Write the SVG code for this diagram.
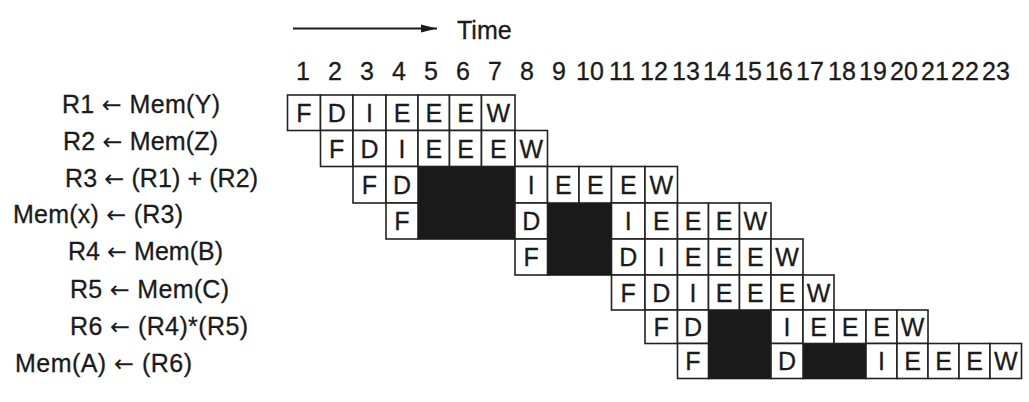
<svg xmlns="http://www.w3.org/2000/svg" width="1029" height="402" viewBox="0 0 1029 402">
<defs>
<style>
.t{font-family:"Liberation Sans",Arial,"DejaVu Sans",sans-serif;font-size:25px;fill:#1b1b1b;stroke:#1b1b1b;stroke-width:0.3}
.c{text-anchor:middle}
.ar{font-family:"DejaVu Sans",sans-serif;font-size:24px;stroke-width:0}
.cell{fill:#fff;stroke:#222;stroke-width:1.6}
.blk{fill:#1a1a1a;stroke:#1a1a1a;stroke-width:1.6}
.ln{stroke:#1b1b1b;stroke-width:1.8;fill:none}
</style>
<marker id="ah" markerUnits="userSpaceOnUse" markerWidth="18" markerHeight="10" refX="16" refY="5" orient="auto">
<path d="M0,1 L16,5 L0,9 Z" fill="#1b1b1b"/>
</marker>
</defs>
<rect width="1029" height="402" fill="#fff"/>

<g id="connectors">
<path class="ln" d="M293,28.5 H437" marker-end="url(#ah)"/>
</g>

<g id="time-axis">
<text class="t" x="457" y="39">Time</text>
<g class="t c">
<text x="303" y="80">1</text><text x="335" y="80">2</text><text x="367" y="80">3</text><text x="399" y="80">4</text>
<text x="431" y="80">5</text><text x="463" y="80">6</text><text x="495" y="80">7</text><text x="527" y="80">8</text>
<text x="559" y="80">9</text><text x="590" y="80">10</text><text x="622" y="80">11</text><text x="654" y="80">12</text>
<text x="686" y="80">13</text><text x="717" y="80">14</text><text x="748" y="80">15</text><text x="779" y="80">16</text>
<text x="810" y="80">17</text><text x="842" y="80">18</text><text x="873" y="80">19</text><text x="904" y="80">20</text>
<text x="935" y="80">21</text><text x="965" y="80">22</text><text x="996" y="80">23</text>
</g>
</g>

<g id="stalls">
<rect class="blk" x="418" y="166.5" width="97" height="72.5"/>
<rect class="blk" x="547.5" y="203" width="64" height="72"/>
<rect class="blk" x="708.5" y="310" width="62.5" height="68.5"/>
<rect class="blk" x="803" y="343.5" width="63" height="35"/>
</g>

<g id="row1">
<text class="t" x="62" y="113" textLength="158" lengthAdjust="spacing">R1 <tspan class="ar">←</tspan> Mem(Y)</text>
<rect class="cell" x="287.5" y="95" width="33" height="35.5"/>
<rect class="cell" x="320.5" y="95" width="32.5" height="35.5"/>
<rect class="cell" x="353" y="95" width="33" height="35.5"/>
<rect class="cell" x="386" y="95" width="32" height="35.5"/>
<rect class="cell" x="418" y="95" width="31.5" height="35.5"/>
<rect class="cell" x="449.5" y="95" width="32" height="35.5"/>
<rect class="cell" x="481.5" y="95" width="33.5" height="35.5"/>
<g class="t c">
<text x="304" y="122">F</text><text x="336.75" y="122">D</text><text x="369.5" y="122">I</text><text x="402" y="122">E</text>
<text x="433.75" y="122">E</text><text x="465.5" y="122">E</text><text x="498.25" y="122">W</text>
</g>
</g>

<g id="row2">
<text class="t" x="63" y="150" textLength="155" lengthAdjust="spacing">R2 <tspan class="ar">←</tspan> Mem(Z)</text>
<rect class="cell" x="320.5" y="130.5" width="32.5" height="36"/>
<rect class="cell" x="353" y="130.5" width="33" height="36"/>
<rect class="cell" x="386" y="130.5" width="32" height="36"/>
<rect class="cell" x="418" y="130.5" width="31.5" height="36"/>
<rect class="cell" x="449.5" y="130.5" width="32" height="36"/>
<rect class="cell" x="481.5" y="130.5" width="33.5" height="36"/>
<rect class="cell" x="515" y="130.5" width="32.5" height="36"/>
<g class="t c">
<text x="336.75" y="157.5">F</text><text x="369.5" y="157.5">D</text><text x="402" y="157.5">I</text><text x="433.75" y="157.5">E</text>
<text x="465.5" y="157.5">E</text><text x="498.25" y="157.5">E</text><text x="531.25" y="157.5">W</text>
</g>
</g>

<g id="row3">
<text class="t" x="65" y="187" textLength="193" lengthAdjust="spacing">R3 <tspan class="ar">←</tspan> (R1) + (R2)</text>
<rect class="cell" x="353" y="166.5" width="33" height="36.5"/>
<rect class="cell" x="386" y="166.5" width="32" height="36.5"/>
<rect class="cell" x="515" y="166.5" width="32.5" height="36.5"/>
<rect class="cell" x="547.5" y="166.5" width="31.5" height="36.5"/>
<rect class="cell" x="579" y="166.5" width="32.5" height="36.5"/>
<rect class="cell" x="611.5" y="166.5" width="33.5" height="36.5"/>
<rect class="cell" x="645" y="166.5" width="32.5" height="36.5"/>
<g class="t c">
<text x="369.5" y="194">F</text><text x="402" y="194">D</text>
<text x="531.25" y="194">I</text><text x="563.25" y="194">E</text><text x="595.25" y="194">E</text><text x="628.25" y="194">E</text><text x="661.25" y="194">W</text>
</g>
</g>

<g id="row4">
<text class="t" x="13" y="223" textLength="170" lengthAdjust="spacing">Mem(x) <tspan class="ar">←</tspan> (R3)</text>
<rect class="cell" x="386" y="203" width="32" height="36"/>
<rect class="cell" x="515" y="203" width="32.5" height="36"/>
<rect class="cell" x="611.5" y="203" width="33.5" height="36"/>
<rect class="cell" x="645" y="203" width="32.5" height="36"/>
<rect class="cell" x="677.5" y="203" width="31" height="36"/>
<rect class="cell" x="708.5" y="203" width="31" height="36"/>
<rect class="cell" x="739.5" y="203" width="31.5" height="36"/>
<g class="t c">
<text x="402" y="230">F</text><text x="531.25" y="230">D</text>
<text x="628.25" y="230">I</text><text x="661.25" y="230">E</text><text x="693" y="230">E</text><text x="724" y="230">E</text><text x="755.25" y="230">W</text>
</g>
</g>

<g id="row5">
<text class="t" x="68" y="260" textLength="155" lengthAdjust="spacing">R4 <tspan class="ar">←</tspan> Mem(B)</text>
<rect class="cell" x="515" y="239" width="32.5" height="36"/>
<rect class="cell" x="611.5" y="239" width="33.5" height="36"/>
<rect class="cell" x="645" y="239" width="32.5" height="36"/>
<rect class="cell" x="677.5" y="239" width="31" height="36"/>
<rect class="cell" x="708.5" y="239" width="31" height="36"/>
<rect class="cell" x="739.5" y="239" width="31.5" height="36"/>
<rect class="cell" x="771" y="239" width="32" height="36"/>
<g class="t c">
<text x="531.25" y="266">F</text>
<text x="628.25" y="266">D</text><text x="661.25" y="266">I</text><text x="693" y="266">E</text><text x="724" y="266">E</text><text x="755.25" y="266">E</text><text x="787" y="266">W</text>
</g>
</g>

<g id="row6">
<text class="t" x="70" y="298" textLength="159" lengthAdjust="spacing">R5 <tspan class="ar">←</tspan> Mem(C)</text>
<rect class="cell" x="611.5" y="275" width="33.5" height="35"/>
<rect class="cell" x="645" y="275" width="32.5" height="35"/>
<rect class="cell" x="677.5" y="275" width="31" height="35"/>
<rect class="cell" x="708.5" y="275" width="31" height="35"/>
<rect class="cell" x="739.5" y="275" width="31.5" height="35"/>
<rect class="cell" x="771" y="275" width="32" height="35"/>
<rect class="cell" x="803" y="275" width="31" height="35"/>
<g class="t c">
<text x="628.25" y="301.5">F</text><text x="661.25" y="301.5">D</text><text x="693" y="301.5">I</text><text x="724" y="301.5">E</text>
<text x="755.25" y="301.5">E</text><text x="787" y="301.5">E</text><text x="818.5" y="301.5">W</text>
</g>
</g>

<g id="row7">
<text class="t" x="70" y="335" textLength="178" lengthAdjust="spacing">R6 <tspan class="ar">←</tspan> (R4)*(R5)</text>
<rect class="cell" x="645" y="310" width="32.5" height="33.5"/>
<rect class="cell" x="677.5" y="310" width="31" height="33.5"/>
<rect class="cell" x="771" y="310" width="32" height="33.5"/>
<rect class="cell" x="803" y="310" width="31" height="33.5"/>
<rect class="cell" x="834" y="310" width="32" height="33.5"/>
<rect class="cell" x="866" y="310" width="31" height="33.5"/>
<rect class="cell" x="897" y="310" width="31" height="33.5"/>
<g class="t c">
<text x="661.25" y="335.75">F</text><text x="693" y="335.75">D</text>
<text x="787" y="335.75">I</text><text x="818.5" y="335.75">E</text><text x="850" y="335.75">E</text><text x="881.5" y="335.75">E</text><text x="912.5" y="335.75">W</text>
</g>
</g>

<g id="row8">
<text class="t" x="15" y="372" textLength="177" lengthAdjust="spacing">Mem(A) <tspan class="ar">←</tspan> (R6)</text>
<rect class="cell" x="677.5" y="343.5" width="31" height="35"/>
<rect class="cell" x="771" y="343.5" width="32" height="35"/>
<rect class="cell" x="866" y="343.5" width="31" height="35"/>
<rect class="cell" x="897" y="343.5" width="31" height="35"/>
<rect class="cell" x="928" y="343.5" width="31" height="35"/>
<rect class="cell" x="959" y="343.5" width="31" height="35"/>
<rect class="cell" x="990" y="343.5" width="31.5" height="35"/>
<g class="t c">
<text x="693" y="370">F</text><text x="787" y="370">D</text>
<text x="881.5" y="370">I</text><text x="912.5" y="370">E</text><text x="943.5" y="370">E</text><text x="974.5" y="370">E</text><text x="1005.75" y="370">W</text>
</g>
</g>
</svg>
